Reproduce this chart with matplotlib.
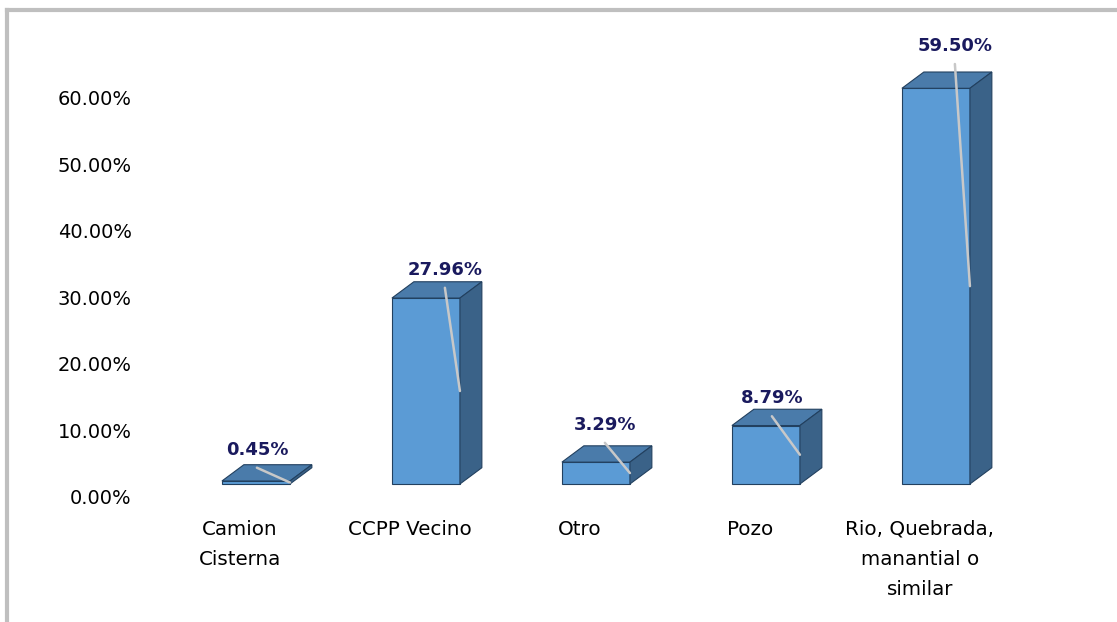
import matplotlib.pyplot as plt
from matplotlib.patches import Polygon
from matplotlib.lines import Line2D
import matplotlib.transforms as mtransforms

categories = ['Camion\nCisterna', 'CCPP Vecino', 'Otro', 'Pozo',
              'Rio, Quebrada,\nmanantial o\nsimilar']
values = [0.45, 27.96, 3.29, 8.79, 59.50]
yticks = [0, 10, 20, 30, 40, 50, 60]
# label placement nudges (px), as placed in the original
label_gap = [15, 12, 21, 11, 26]
label_dx = [-18, 0, -10, -13, 0]

front_c = '#5B9BD5'
top_c = '#4A7BAA'
side_c = '#3A6288'
edge_c = '#22405F'
label_c = '#1A1A5E'

fig = plt.figure(figsize=(11.17, 6.22), dpi=100)
ax = fig.add_axes([140 / 1117, 112 / 622, 970 / 1117, 490 / 622])
ax.set_xlim(-0.588, 5.118)
ax.set_ylim(-3.91, 69.77)
px = 490 / (69.77 + 3.91)   # pixels per percent
pxx = 970 / (5.118 + 0.588)  # pixels per category

# bar geometry (x in category units, y in percent)
x0 = -0.106      # front face left offset from category center
w = 0.40         # front face width
dx = 0.129       # depth shift right
dy = 2.45        # depth shift up

for i, v in enumerate(values):
    l = i + x0
    r = l + w
    front = Polygon([(l, 0), (r, 0), (r, v), (l, v)], closed=True,
                    facecolor=front_c, edgecolor=edge_c, lw=0.8, zorder=3)
    top = Polygon([(l, v), (r, v), (r + dx, v + dy), (l + dx, v + dy)], closed=True,
                  facecolor=top_c, edgecolor=edge_c, lw=0.8, zorder=3)
    side = Polygon([(r, 0), (r + dx, dy), (r + dx, v + dy), (r, v)], closed=True,
                   facecolor=side_c, edgecolor=edge_c, lw=0.8, zorder=3)
    for p in (front, top, side):
        ax.add_patch(p)

    # data label and leader line
    lx = (l + r + dx) / 2 + 0.047 + label_dx[i] / pxx
    ly = v + dy + label_gap[i] / px
    ax.text(lx, ly, f'{v:.2f}%', ha='center', va='center', fontsize=13,
            fontweight='bold', color=label_c, zorder=5)
    ax.add_line(Line2D([lx, r], [ly - 18 / px, v / 2], color='#C8C8C8', lw=1.8,
                       zorder=4, solid_capstyle='round'))

    # category label
    ax.text(i, -5.4, categories[i], ha='center', va='top', fontsize=14.3,
            linespacing=1.72, color='black', clip_on=False)

ax.set_yticks(yticks)
ax.set_yticklabels([f'{t:.2f}%' for t in yticks], fontsize=14)
ax.tick_params(axis='y', length=0, pad=6)
shift = mtransforms.ScaledTranslation(0, -13 / 100, fig.dpi_scale_trans)
for lab in ax.get_yticklabels():
    lab.set_transform(lab.get_transform() + shift)
ax.set_xticks([])
for s in ax.spines.values():
    s.set_visible(False)

# outer frame (top and left only)
fig.add_artist(Line2D([7 / 1117, 1], [1 - 10 / 622, 1 - 10 / 622],
                      color='#BFBFBF', lw=3, transform=fig.transFigure))
fig.add_artist(Line2D([7 / 1117, 7 / 1117], [0, 1 - 10 / 622],
                      color='#BFBFBF', lw=3, transform=fig.transFigure))

fig.savefig('out.png', dpi=100)
